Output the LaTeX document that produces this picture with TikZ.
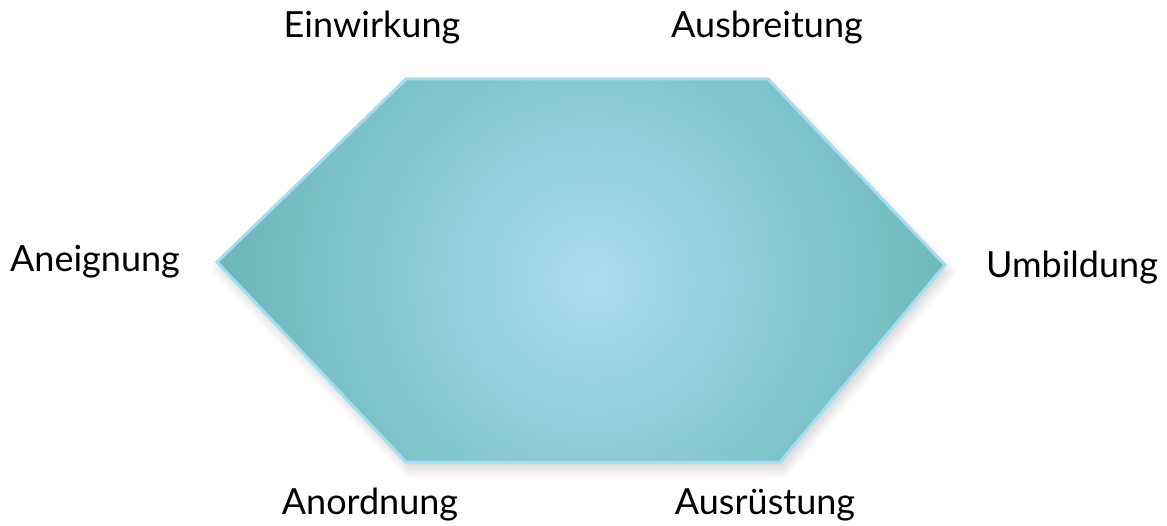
\documentclass[tikz,border=0pt]{standalone}
\usepackage{fontspec}
\setmainfont{Lato}
\usetikzlibrary{shadows.blur}
\definecolor{hexmitte}{HTML}{A9DDF0}
\definecolor{hexrand}{HTML}{68B5B6}
\definecolor{hexlinie}{HTML}{A6DCF2}
\tikzset{
    stufe/.style={font=\fontsize{36}{40}\selectfont, text=black, inner sep=0pt},
    sechseck/.style={
        fill=hexrand,
        blur shadow={shadow xshift=3pt, shadow yshift=-7pt, shadow opacity=18,
            shadow blur radius=9pt, shadow blur steps=12}
    },
    rand/.style={draw=hexlinie, line width=3pt, line join=miter}
}
\begin{document}
\begin{tikzpicture}[x=1pt, y=-1pt]
    \useasboundingbox (0,0) rectangle (1167,526);
    \coordinate (ol) at (406,79);
    \coordinate (or) at (768,79);
    \coordinate (re) at (945,265);
    \coordinate (ur) at (780,462);
    \coordinate (ul) at (406,462);
    \coordinate (li) at (217,262);
    \coordinate (mitte) at (592,280);
    % Schatten und Grundfarbe
    \path[sechseck] (ol) -- (or) -- (re) -- (ur) -- (ul) -- (li) -- cycle;
    % radialer Verlauf
    \begin{scope}
        \clip (ol) -- (or) -- (re) -- (ur) -- (ul) -- (li) -- cycle;
        \shade[inner color=hexmitte, outer color=hexrand] (mitte) circle (390);
    \end{scope}
    \draw[rand] (ol) -- (or) -- (re) -- (ur) -- (ul) -- (li) -- cycle;

    \node[stufe] (einwirkung) at (372,28) {Einwirkung};
    \node[stufe] (ausbreitung) at (767,28) {Ausbreitung};
    \node[stufe] (aneignung) at (95,262) {Aneignung};
    \node[stufe] (umbildung) at (1072,268) {Umbildung};
    \node[stufe] (anordnung) at (370,505) {Anordnung};
    \node[stufe] (ausruestung) at (765,505) {Ausrüstung};
\end{tikzpicture}
\end{document}
